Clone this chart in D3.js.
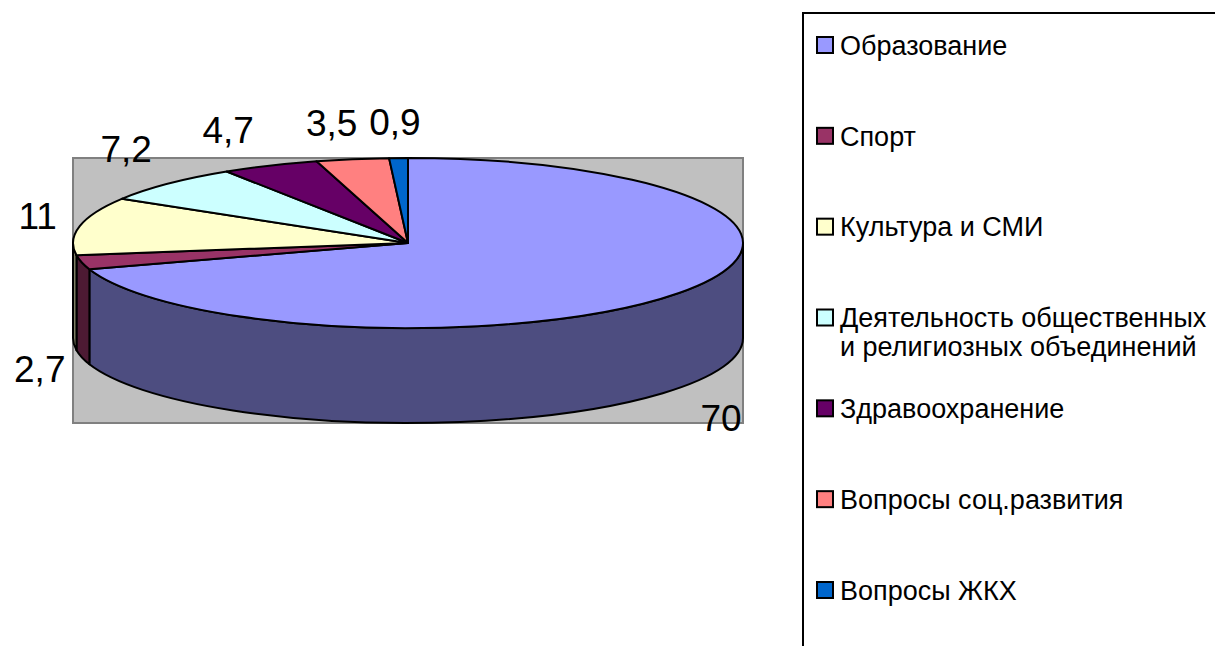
<!DOCTYPE html>
<html>
<head>
<meta charset="utf-8">
<script src="https://cdn.jsdelivr.net/npm/d3@7"></script>
<style>
  body { margin: 0; background: #fff; }
  svg { display: block; font-family: "Liberation Sans", Arial, sans-serif; }
</style>
</head>
<body>
<svg id="chart" width="1215" height="646"></svg>
<script>
// Chart data
var categories = [
  "Образование",
  "Спорт",
  "Культура и СМИ",
  "Деятельность общественных\nи религиозных объединений",
  "Здравоохранение",
  "Вопросы соц.развития",
  "Вопросы ЖКХ"
];
var values = [70, 2.7, 11, 7.2, 4.7, 3.5, 0.9];
var colors = ["#9999FF", "#993366", "#FFFFCC", "#CCFFFF", "#660066", "#FF8080", "#0066CC"];

(function () {
  "use strict";

  var svg = d3.select("#chart"),
    cx = 408,
    cy = 243,
    rx = 335,
    ry = 85,
    depth = 95,
    locale = d3.formatLocale({ decimal: ",", thousands: " ", grouping: [3], currency: ["", ""] }),
    fmt = locale.format("~g");

  var rows = categories.map(function (c, i) {
    return { name: c, value: values[i], color: colors[i] };
  });

  var pie = d3.pie()
    .value(function (d) { return d.value; })
    .sort(null);
  var slices = pie(rows);

  // point on the top ellipse (or bottom one when dy = depth)
  function pt(a, dy) {
    return [cx + rx * Math.sin(a), cy - ry * Math.cos(a) + (dy || 0)];
  }

  // Plot area behind the pie
  svg.append("rect")
    .attr("x", cx - rx)
    .attr("y", cy - ry)
    .attr("width", rx * 2)
    .attr("height", ry * 2 + depth)
    .attr("fill", "#C0C0C0")
    .attr("stroke", "#808080")
    .attr("stroke-width", 2);

  // Side walls, only the front half is visible
  function sidePath(a0, a1) {
    var s = Math.max(a0, Math.PI / 2),
      e = Math.min(a1, 3 * Math.PI / 2);
    if (e <= s) return null;
    var p0 = pt(s), p1 = pt(e), b1 = pt(e, depth), b0 = pt(s, depth);
    return "M" + p0 + "A" + rx + "," + ry + " 0 0 1 " + p1 +
      "L" + b1 + "A" + rx + "," + ry + " 0 0 0 " + b0 + "Z";
  }

  svg.append("g").attr("class", "sides")
    .selectAll("path")
    .data(slices.filter(function (d) { return sidePath(d.startAngle, d.endAngle); }))
    .enter().append("path")
    .attr("d", function (d) { return sidePath(d.startAngle, d.endAngle); })
    .attr("fill", function (d) {
      // side walls are the slice colour at half brightness
      var c = d3.rgb(d.data.color);
      return d3.rgb(c.r / 2, c.g / 2, c.b / 2).formatHex();
    })
    .attr("stroke", "#000")
    .attr("stroke-width", 2)
    .attr("stroke-linejoin", "round");

  // Top faces: circular arcs squashed into an ellipse
  var arc = d3.arc().innerRadius(0).outerRadius(rx);

  svg.append("g").attr("class", "tops")
    .attr("transform", "translate(" + cx + "," + cy + ") scale(1," + (ry / rx) + ")")
    .selectAll("path")
    .data(slices)
    .enter().append("path")
    .attr("d", arc)
    .attr("fill", function (d) { return d.data.color; })
    .attr("stroke", "#000")
    .attr("stroke-width", 2)
    .attr("stroke-linejoin", "round")
    .attr("vector-effect", "non-scaling-stroke");

  // Data labels outside the pie
  svg.append("g").attr("class", "labels")
    .selectAll("text")
    .data(slices)
    .enter().append("text")
    .attr("x", function (d) {
      var s = Math.sin((d.startAngle + d.endAngle) / 2);
      return cx + rx * s + 42 * Math.sign(s) * Math.min(1, 3 * Math.abs(s));
    })
    .attr("y", function (d) {
      var c = Math.cos((d.startAngle + d.endAngle) / 2);
      return cy - ry * c + (c < 0 ? depth : 0) - 36 * Math.sign(c) * Math.min(1, 1.4 * Math.abs(c));
    })
    .attr("dy", "0.36em")
    .attr("text-anchor", "middle")
    .attr("font-size", 37)
    .attr("fill", "#000")
    .text(function (d) { return fmt(d.data.value); });

  // Legend
  var legend = svg.append("g").attr("class", "legend");

  legend.append("rect")
    .attr("x", 803)
    .attr("y", 13)
    .attr("width", 500)
    .attr("height", 700)
    .attr("fill", "#fff")
    .attr("stroke", "#000")
    .attr("stroke-width", 2);

  var y = d3.scalePoint()
    .domain(categories)
    .range([45, 590]);

  var keys = legend.selectAll(".key")
    .data(rows)
    .enter().append("g")
    .attr("class", "key")
    .attr("transform", function (d) { return "translate(0," + y(d.name) + ")"; });

  keys.append("rect")
    .attr("x", 817)
    .attr("y", -8)
    .attr("width", 16)
    .attr("height", 16)
    .attr("fill", function (d) { return d.color; })
    .attr("stroke", "#000")
    .attr("stroke-width", 2);

  keys.append("text")
    .attr("x", 840)
    .attr("y", 0)
    .attr("font-size", 27)
    .attr("fill", "#000")
    .selectAll("tspan")
    .data(function (d) { return d.name.split("\n"); })
    .enter().append("tspan")
    .attr("x", 840)
    .attr("dy", function (d, i) { return i === 0 ? "0.36em" : "1.08em"; })
    .text(function (d) { return d; });
})();
</script>
</body>
</html>
